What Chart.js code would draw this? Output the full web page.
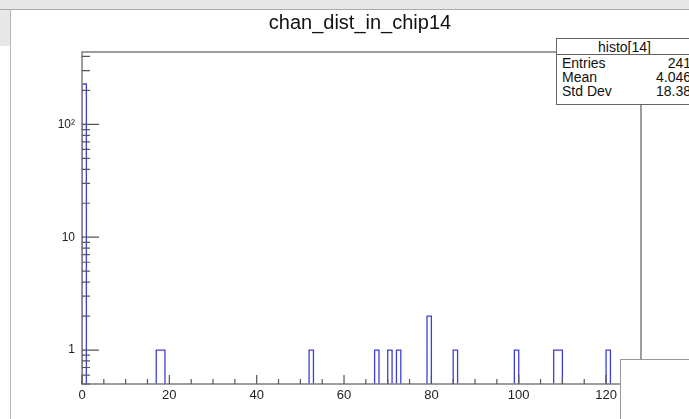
<!DOCTYPE html>
<html>
<head>
<meta charset="utf-8">
<script src="https://cdn.jsdelivr.net/npm/chart.js@4.4.1/dist/chart.umd.min.js"></script>
<style>
  html, body { margin: 0; padding: 0; background: #fff; }
  body { width: 689px; height: 419px; position: relative; overflow: hidden; font-family: "Liberation Sans", Arial, sans-serif; color: #111; }
  .topband { position: absolute; left: 0; top: 0; width: 689px; height: 9px; background: #e7e7e7; border-bottom: 1px solid #aaa; }
  .leftband { position: absolute; left: 0; top: 10px; width: 10px; height: 36px; background: #e7e7e7; }
  .leftline { position: absolute; left: 10px; top: 9px; width: 1px; height: 410px; background: #b5b5b5; }
  #wrap { position: absolute; left: 0; top: 0; width: 689px; height: 419px; }
  .title { position: absolute; left: 0; top: 12px; width: 720px; text-align: center; font-size: 20px; line-height: 20px; }
  .stats { position: absolute; left: 556px; top: 38px; width: 135px; height: 65px; background: #fff; border: 1px solid #666; font-size: 14px; }
  .stats .sep { position: absolute; left: 0; top: 15px; width: 100%; height: 1px; background: #666; }
  .stats .row { position: absolute; left: 5px; width: 129px; height: 14px; line-height: 14px; }
  .stats .row span.v { position: absolute; right: 0; top: 0; }
  .stats .head { position: absolute; left: 0; top: 1px; width: 135px; text-align: center; line-height: 14px; }
  .corner { position: absolute; left: 620px; top: 359px; width: 80px; height: 80px; background: #fff; border-left: 1px solid #999; border-top: 1px solid #999; }
</style>
</head>
<body>
<div class="topband"></div>
<div class="leftband"></div>
<div class="leftline"></div>
<div id="wrap"><canvas id="grafico" width="689" height="419"></canvas></div>
<div class="title">chan_dist_in_chip14</div>
<div class="stats">
  <div class="head">histo[14]</div>
  <div class="sep"></div>
  <div class="row" style="top:17px">Entries<span class="v">241</span></div>
  <div class="row" style="top:31px">Mean<span class="v">4.046</span></div>
  <div class="row" style="top:45px">Std Dev<span class="v">18.38</span></div>
</div>
<div class="corner"></div>

<script>
// === Dados do histograma (canais com contagem != 0) ===
const canais = [0, 17, 18, 52, 67, 70, 72, 79, 85, 99, 108, 109, 120];
const contagens = [228, 1, 1, 1, 1, 1, 1, 2, 1, 1, 1, 1, 1];
const numBins = 128;

const xTicks = [0, 20, 40, 60, 80, 100, 120];
const yTicks = [1, 10, 100];
const yTickLabels = ["1", "10", "10\u00B2"];

const yMin = 0.5;
const yMax = 438;
const fonte = '"Liberation Sans", Arial, sans-serif';

// monta o contorno do histograma (bins vazios ficam abaixo do eixo e são cortados)
function montarContorno() {
  const bins = new Array(numBins).fill(0);
  canais.forEach((c, i) => { bins[c] = contagens[i]; });
  const chao = yMin / 4;
  const pts = [{ x: 0, y: chao }];
  bins.forEach((v, i) => {
    const y = v > 0 ? v : chao;
    pts.push({ x: i, y: y });
    pts.push({ x: i + 1, y: y });
  });
  pts.push({ x: numBins, y: chao });
  return pts;
}

// Moldura e marcas internas estilo ROOT
const molduraPlugin = {
  id: "moldura",
  afterDatasetsDraw(chart) {
    const { ctx, chartArea: a, scales: { x, y } } = chart;
    ctx.save();
    ctx.strokeStyle = "#858585";
    ctx.lineWidth = 1.6;
    ctx.strokeRect(a.left, a.top, a.right - a.left, a.bottom - a.top);

    ctx.strokeStyle = "#555";
    ctx.lineWidth = 1.2;
    ctx.beginPath();
    for (let v = 0; v < numBins; v += 5) {
      const px = x.getPixelForValue(v);
      const len = v % 20 === 0 ? 9 : 5;
      ctx.moveTo(px, a.bottom);
      ctx.lineTo(px, a.bottom - len);
    }
    [0.1, 1, 10, 100].forEach(dec => {
      for (let k = 1; k <= 9; k++) {
        const v = k * dec;
        if (v < yMin || v > yMax) continue;
        const py = y.getPixelForValue(v);
        const len = k === 1 ? 17 : 8;
        ctx.moveTo(a.left, py);
        ctx.lineTo(a.left + len, py);
      }
    });
    ctx.stroke();
    ctx.restore();
  }
};

const ctx = document.getElementById("grafico").getContext("2d");
new Chart(ctx, {
  type: "line",
  data: {
    datasets: [{
      data: montarContorno(),
      borderColor: "#4040d4",
      borderWidth: 1.3,
      pointRadius: 0,
      tension: 0,
      fill: false
    }]
  },
  options: {
    responsive: false,
    animation: false,
    devicePixelRatio: 1,
    layout: { padding: { left: 0, right: 48, top: 52, bottom: 0 } },
    scales: {
      x: {
        type: "linear",
        min: 0,
        max: numBins,
        afterBuildTicks: s => { s.ticks = xTicks.map(v => ({ value: v })); },
        afterFit: s => { s.height = 35; },
        grid: { display: false, drawTicks: false },
        border: { display: false },
        ticks: { color: "#222", font: { size: 13, family: fonte }, padding: 4, maxRotation: 0, autoSkip: false }
      },
      y: {
        type: "logarithmic",
        min: yMin,
        max: yMax,
        afterBuildTicks: s => { s.ticks = yTicks.map(v => ({ value: v })); },
        afterFit: s => { s.width = 82; },
        grid: { display: false, drawTicks: false },
        border: { display: false },
        ticks: {
          color: "#222",
          font: { size: 12, family: fonte },
          padding: 7,
          callback: (v, i) => yTickLabels[i]
        }
      }
    },
    plugins: {
      legend: { display: false },
      title: { display: false },
      tooltip: { enabled: false }
    }
  },
  plugins: [molduraPlugin]
});
</script>
</body>
</html>
